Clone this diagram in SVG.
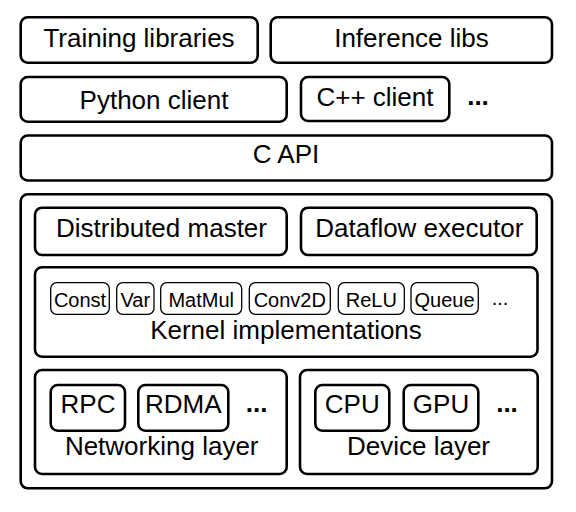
<svg xmlns="http://www.w3.org/2000/svg" width="576" height="512" viewBox="0 0 576 512">
<style>
.b{fill:#fff;stroke:#000;stroke-width:2.6}
.s{fill:#fff;stroke:#000;stroke-width:1.3}
text{font-family:"Liberation Sans",Arial,sans-serif;fill:#000;text-anchor:middle}
.t{font-size:26px}
.k{font-size:20px}
.d{font-weight:bold}
</style>
<rect width="576" height="512" fill="#fff"/>
<g id="training"><rect class="b" x="20.7" y="17.3" width="237" height="45.4" rx="7"/><text class="t" x="139" y="47">Training libraries</text></g>
<g id="inference"><rect class="b" x="270.7" y="17.3" width="281.3" height="45.4" rx="7"/><text class="t" x="411.5" y="46.5">Inference libs</text></g>
<g id="python"><rect class="b" x="20.7" y="77" width="266" height="44.7" rx="7"/><text class="t" x="154" y="109.3">Python client</text></g>
<g id="cpp"><rect class="b" x="301" y="77" width="148.3" height="44" rx="7"/><text class="t" x="375" y="105.5">C++ client</text></g>
<text class="t d" x="478" y="105" id="clients-more">...</text>
<g id="capi"><rect class="b" x="20.7" y="135.5" width="531.3" height="45" rx="7"/><text class="t" x="286" y="163.3">C API</text></g>
<g id="core"><rect class="b" x="20.7" y="194.3" width="531.3" height="294" rx="7"/>
<g id="master"><rect class="b" x="35" y="207.7" width="251.7" height="47.3" rx="7"/><text class="t" x="161.5" y="236.7">Distributed master</text></g>
<g id="executor"><rect class="b" x="301" y="207.7" width="235.7" height="47.3" rx="7"/><text class="t" x="419.3" y="236.7">Dataflow executor</text></g>
<g id="kernels"><rect class="b" x="35" y="267.3" width="502.5" height="89.4" rx="7"/>
<g id="k-const"><rect class="s" x="50.7" y="282.7" width="58.6" height="31.6" rx="6"/><text class="k" x="80" y="306.5">Const</text></g>
<g id="k-var"><rect class="s" x="116.7" y="282.7" width="37.3" height="31.6" rx="6"/><text class="k" x="135.3" y="306.5">Var</text></g>
<g id="k-matmul"><rect class="s" x="160.7" y="282.7" width="81" height="31.6" rx="6"/><text class="k" x="201.2" y="306.5">MatMul</text></g>
<g id="k-conv2d"><rect class="s" x="249.3" y="282.7" width="81" height="31.6" rx="6"/><text class="k" x="289.8" y="306.5">Conv2D</text></g>
<g id="k-relu"><rect class="s" x="338.3" y="282.7" width="66" height="31.6" rx="6"/><text class="k" x="371.3" y="306.5">ReLU</text></g>
<g id="k-queue"><rect class="s" x="411" y="282.7" width="67.3" height="31.6" rx="6"/><text class="k" x="444.6" y="306.5">Queue</text></g>
<text class="k" x="500" y="305">...</text>
<text class="t" x="286" y="338.5">Kernel implementations</text>
</g>
<g id="networking"><rect class="b" x="35" y="370" width="251.7" height="104" rx="7"/>
<g id="rpc"><rect class="b" x="50.7" y="385" width="74.3" height="45.7" rx="7"/><text class="t" x="88" y="413.3">RPC</text></g>
<g id="rdma"><rect class="b" x="138.3" y="385" width="90" height="45.7" rx="7"/><text class="t" x="183.3" y="413.3">RDMA</text></g>
<text class="t d" x="256.7" y="411.7">...</text>
<text class="t" x="161.7" y="455">Networking layer</text>
</g>
<g id="device"><rect class="b" x="300" y="370" width="237.7" height="104" rx="7"/>
<g id="cpu"><rect class="b" x="315.3" y="385" width="74" height="45.7" rx="7"/><text class="t" x="352.3" y="413.3">CPU</text></g>
<g id="gpu"><rect class="b" x="403.7" y="385" width="74.6" height="45.7" rx="7"/><text class="t" x="441" y="413.3">GPU</text></g>
<text class="t d" x="507" y="411.7">...</text>
<text class="t" x="418.5" y="455">Device layer</text>
</g>
</g>
<g id="connectors"/>
</svg>
